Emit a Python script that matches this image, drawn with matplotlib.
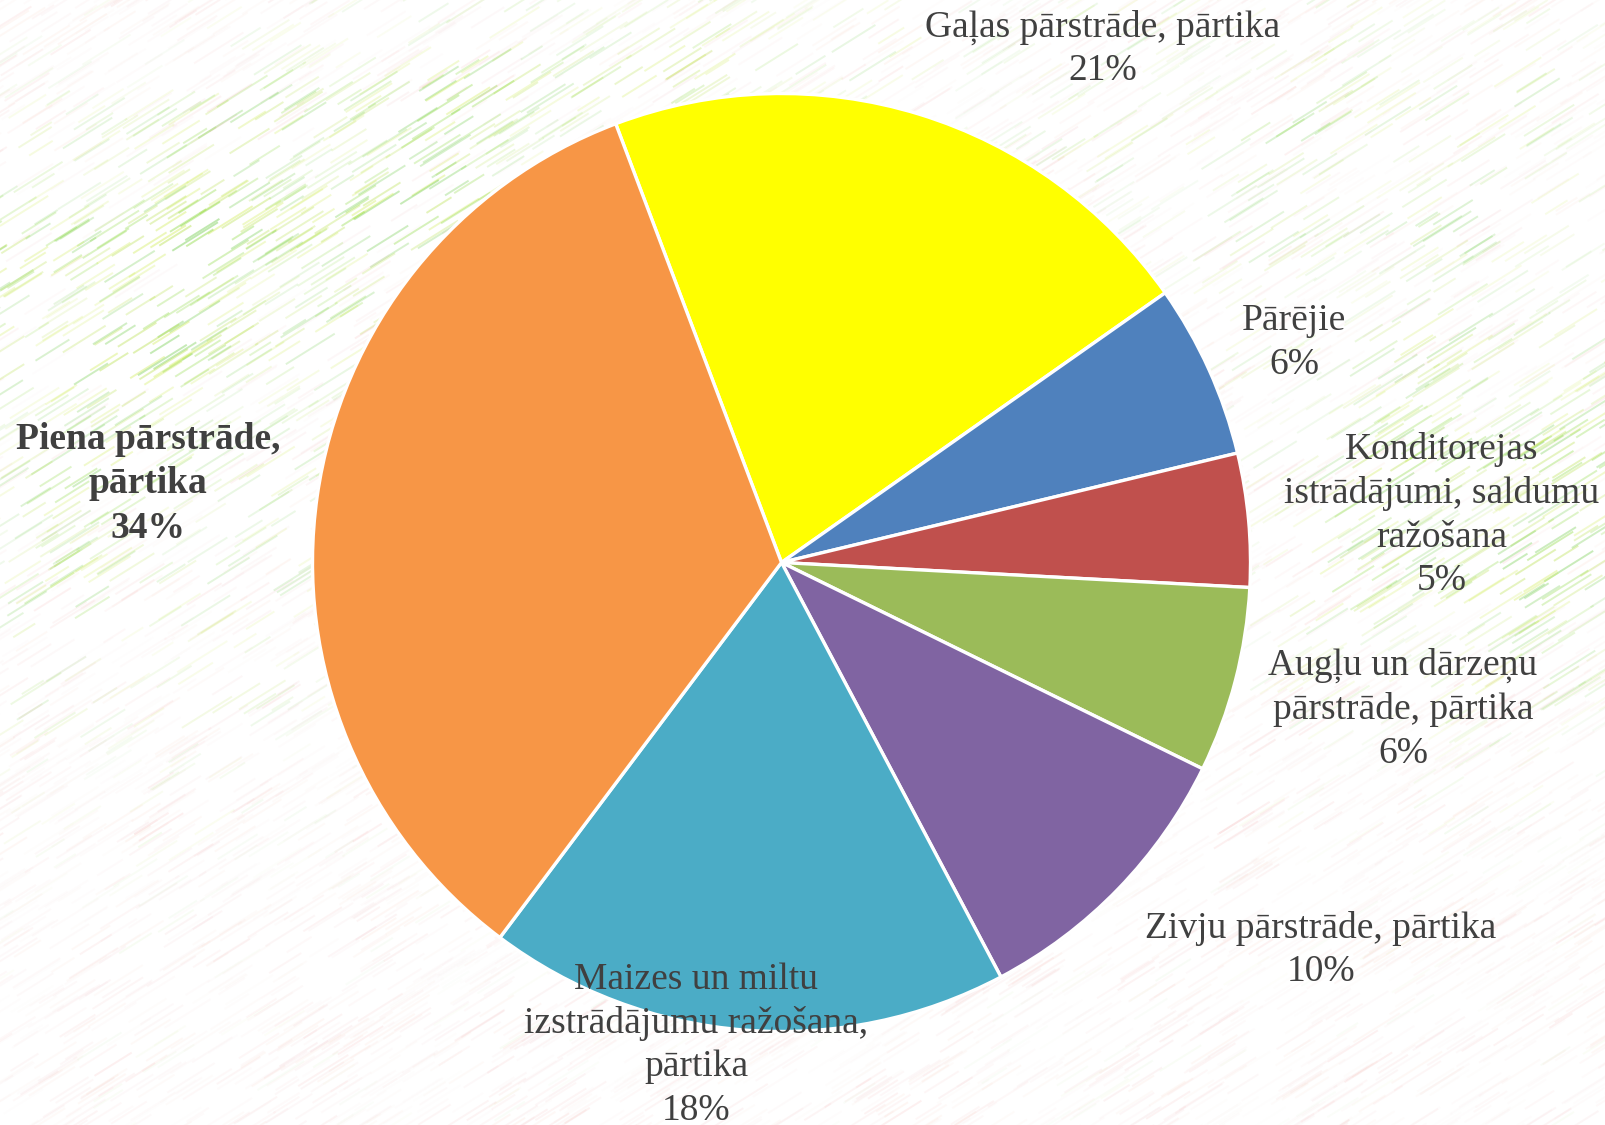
import numpy as np
import matplotlib
matplotlib.use("Agg")
import matplotlib.pyplot as plt
from matplotlib.collections import LineCollection

W, H = 1606, 1125

# --- data -------------------------------------------------------------------
labels = [
    "Gaļas pārstrāde, pārtika",
    "Pārējie",
    "Konditorejas\nistrādājumi, saldumu\nražošana",
    "Augļu un dārzeņu\npārstrāde, pārtika",
    "Zivju pārstrāde, pārtika",
    "Maizes un miltu\nizstrādājumu ražošana,\npārtika",
    "Piena pārstrāde,\npārtika",
]
shares = [21.0, 6.0, 4.6, 6.4, 10.0, 18.0, 34.0]
colors = ["#FFFF00", "#4F81BD", "#C0504D", "#9BBB59", "#8064A2", "#4BACC6", "#F79646"]

# label block centres (pixels, y from top)
label_pos = [(1103, 49), (1294, 343), (1442, 515), (1403, 709),
             (1321, 950), (696, 1045), (148, 484)]
label_bold = [False, False, False, False, False, False, True]

fig = plt.figure(figsize=(W / 100, H / 100), dpi=100)
fig.patch.set_facecolor("white")
ax = fig.add_axes([0, 0, 1, 1])

# --- textured background (decorative strokes only) ----------------------------
rng = np.random.default_rng(7)
n = 7000
x0 = rng.uniform(-60, W, n)
y0 = rng.uniform(-30, H + 30, n)          # y from top
L = rng.uniform(25, 60, n)
ang = np.deg2rad(32)
dx, dy = L * np.cos(ang), L * np.sin(ang)
# blotchy green density: band across top-left, right-middle patch, top area
gband = np.exp(-((y0 - (300 - 0.30 * x0)) / 150) ** 2) * np.exp(-((x0 - 300) / 500) ** 2)
gright = np.exp(-(((x0 - 1480) / 240) ** 2 + ((y0 - 520) / 200) ** 2))
gtop = np.exp(-(((x0 - 1350) / 350) ** 2 + ((y0 - 150) / 160) ** 2)) * 0.5
gleft = np.exp(-(((x0 - 100) / 250) ** 2 + ((y0 - 520) / 250) ** 2)) * 0.6
g = np.clip(gband + gright + gtop + gleft, 0, 1)
blot = 0.5 + 0.5 * np.sin(x0 / 57.0 + y0 / 31.0) * np.cos(x0 / 83.0 - y0 / 47.0)
p = rng.uniform(0, 1, n)
is_green = p < 0.1 + 0.85 * g
greens = np.array([[0.55, 0.85, 0.25], [0.72, 0.88, 0.30], [0.82, 0.93, 0.35], [0.45, 0.80, 0.30]])
pinks = np.array([[0.95, 0.60, 0.60], [0.93, 0.70, 0.72], [0.98, 0.78, 0.70]])
cols = np.zeros((n, 4))
gi = rng.integers(0, len(greens), n)
pi_ = rng.integers(0, len(pinks), n)
cols[:, :3] = np.where(is_green[:, None], greens[gi], pinks[pi_])
cols[:, 3] = np.where(is_green, (0.05 + 0.40 * g) * (0.3 + 0.7 * blot),
                      (0.04 + 0.12 * rng.uniform(0, 1, n)) * (0.3 + 0.7 * blot))
segs = np.stack([np.column_stack([x0, H - y0]),
                 np.column_stack([x0 + dx, H - (y0 - dy)])], axis=1)
ax.add_collection(LineCollection(segs, colors=cols, linewidths=1.4, zorder=0))

# --- pie ---------------------------------------------------------------------
ax.pie(shares, colors=colors, startangle=110.7, counterclock=False,
       center=(781.5, H - 562.5), radius=469, frame=True,
       wedgeprops=dict(edgecolor="white", linewidth=2.4, zorder=2))
ax.set_xlim(0, W)
ax.set_ylim(0, H)
ax.axis("off")

for lab, s, (lx, ly), b in zip(labels, shares, label_pos, label_bold):
    ax.text(lx, H - ly, f"{lab}\n{round(s):d}%", ha="center", va="center",
            multialignment="center", fontsize=27, linespacing=1.34,
            color="#404040", family="Liberation Serif",
            fontweight="bold" if b else "normal", zorder=5)

fig.savefig("out.png", dpi=100)
